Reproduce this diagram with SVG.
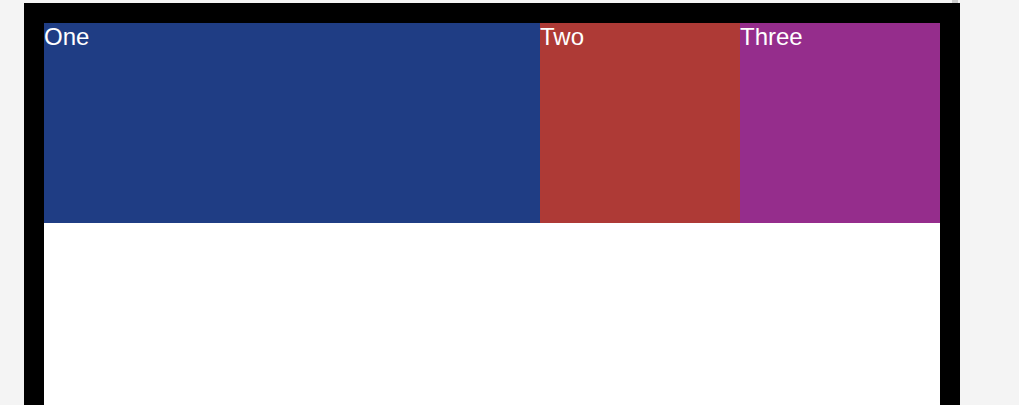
<svg xmlns="http://www.w3.org/2000/svg" width="1019" height="405" viewBox="0 0 1019 405">
<style>
.lbl{font-family:"Liberation Sans",Arial,sans-serif;font-size:24px;fill:#ffffff}
</style>
<rect x="0" y="0" width="1019" height="405" fill="#f4f4f4"/>
<rect x="952" y="0" width="6" height="3" fill="#cccccc"/>
<rect x="24" y="3" width="936" height="402" fill="#000000"/>
<rect x="44" y="23" width="896" height="382" fill="#ffffff"/>
<g id="one">
<rect x="44" y="23" width="496" height="200" fill="#1f3d84"/>
<text class="lbl" x="44" y="44.7">One</text>
</g>
<g id="two">
<rect x="540" y="23" width="200" height="200" fill="#ae3a36"/>
<text class="lbl" x="540" y="44.7">Two</text>
</g>
<g id="three">
<rect x="740" y="23" width="200" height="200" fill="#952d8c"/>
<text class="lbl" x="740" y="44.7">Three</text>
</g>
<g id="connectors"/>
</svg>
